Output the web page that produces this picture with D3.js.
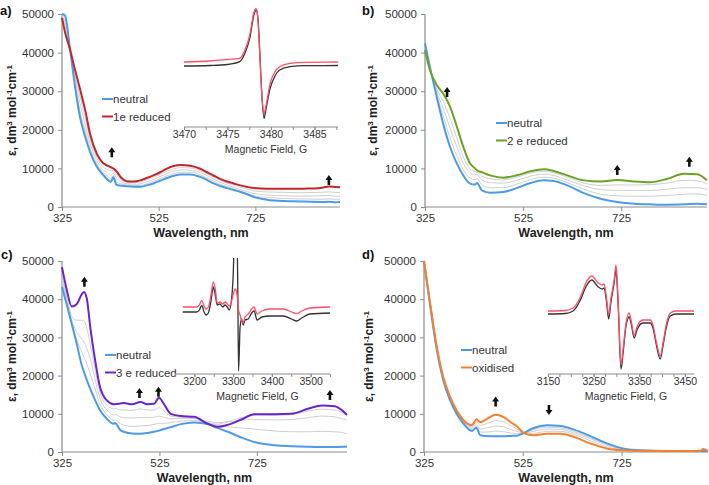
<!DOCTYPE html>
<html>
<head>
<meta charset="utf-8">
<script src="https://cdn.jsdelivr.net/npm/d3@7"></script>
<style>
  html, body { margin: 0; padding: 0; background: #fff; }
  svg { display: block; }
  text { font-family: "Liberation Sans", Arial, sans-serif; }
</style>
</head>
<body>
<svg id="chart" width="709" height="485"></svg>
<script>
// ---------------- DATA ----------------
const epsTicks = [0, 10000, 20000, 30000, 40000, 50000];
const wlTicks = [325, 525, 725];

// Panel a
const wlA = [325, 331, 342, 352, 362, 373, 383, 397, 411, 421, 426, 431, 438, 448, 459, 473, 487, 500, 514, 528, 542, 556, 570, 590, 611, 625, 639, 652, 666, 680, 694, 708, 722, 749, 784, 818, 840, 860, 877, 890, 900];
const neutralA = [50000, 49700, 40600, 31100, 23400, 18200, 14300, 10400, 8200, 6900, 6500, 7700, 5700, 5500, 5350, 5250, 5250, 5600, 6100, 6800, 7500, 8100, 8450, 8450, 7800, 7000, 6100, 5450, 4900, 4400, 3900, 3300, 2600, 1900, 1550, 1450, 1350, 1300, 1350, 1250, 1300];
const reducedA = [49000, 45400, 40600, 35500, 30700, 25100, 19000, 13800, 11250, 10600, 10300, 10000, 9200, 7500, 6700, 6600, 6900, 7500, 8200, 9000, 9950, 10600, 10900, 10700, 9900, 9000, 8100, 7300, 6600, 6100, 5600, 5200, 4900, 4750, 4750, 4700, 4800, 4900, 5300, 5200, 5100];
const grayA1 = [49500, 47000, 40600, 34300, 28800, 23200, 17800, 12800, 10300, 9600, 9300, 9400, 8300, 7000, 6400, 6300, 6500, 7000, 7700, 8500, 9300, 9900, 10200, 10100, 9400, 8600, 7700, 6900, 6200, 5700, 5100, 4600, 4200, 3900, 3800, 3700, 3750, 3800, 3900, 3800, 3700];
const grayA2 = [49700, 48000, 40600, 33200, 26900, 21400, 16500, 12000, 9500, 8700, 8300, 8800, 7400, 6500, 6000, 5900, 6000, 6500, 7100, 7900, 8700, 9300, 9600, 9500, 8900, 8100, 7200, 6400, 5700, 5100, 4500, 4000, 3500, 3100, 2900, 2800, 2850, 2900, 2950, 2800, 2800];
const grayA3 = [49900, 49000, 40600, 32200, 25000, 19700, 15300, 11200, 8800, 7800, 7400, 8200, 6500, 6000, 5700, 5600, 5600, 6000, 6600, 7300, 8100, 8700, 9000, 9000, 8300, 7500, 6700, 5900, 5300, 4700, 4100, 3500, 2900, 2500, 2200, 2100, 2050, 2000, 2100, 2000, 2000];
const arrowsA = [[428, 15500, "up"], [877, 8300, "up"]];

// Panel b
const wlB = [325, 335, 349, 362, 376, 390, 403, 417, 427, 431, 441, 458, 485, 512, 540, 567, 587, 615, 649, 683, 717, 751, 785, 819, 853, 880, 900];
const neutralB = [42400, 36300, 28500, 21600, 15600, 11250, 8200, 6050, 5800, 6200, 4300, 3700, 3900, 4900, 6200, 6900, 6750, 5600, 3600, 2150, 1300, 870, 700, 600, 700, 870, 700];
const reducedB = [40650, 35500, 31600, 29400, 26000, 20800, 15600, 11250, 10000, 9500, 9000, 8200, 7600, 8200, 9250, 9800, 9350, 8200, 6900, 6600, 7000, 6600, 6400, 7300, 8600, 8500, 6900];
const grayB1 = [41000, 35800, 30500, 27400, 23000, 17800, 13000, 9800, 9200, 9000, 8000, 7300, 7000, 7700, 8800, 9200, 8900, 7700, 6200, 5600, 5700, 5700, 5800, 6200, 6900, 6800, 6000];
const grayB2 = [41500, 36000, 29800, 25600, 20500, 15500, 11300, 8900, 8300, 8400, 7000, 6300, 6200, 6900, 8000, 8500, 8200, 7000, 5500, 4500, 4300, 4300, 4300, 4600, 5000, 5000, 4500];
const grayB3 = [42000, 36200, 29100, 23600, 18000, 13300, 9700, 7500, 7100, 7400, 5700, 5000, 5000, 5900, 7100, 7700, 7500, 6300, 4600, 3300, 2900, 2800, 2800, 3000, 3300, 3400, 3000];
const arrowsB = [[370, 31100, "up"], [717, 10900, "up"], [864, 13000, "up"]];

// Panel c
const wlC = [325, 335, 345, 355, 366, 370, 376, 383, 393, 403, 417, 431, 434, 445, 452, 469, 486, 500, 514, 524, 534, 548, 569, 596, 624, 644, 665, 693, 720, 762, 796, 830, 858, 885, 900, 910];
const neutralC = [43200, 38500, 33500, 28500, 22500, 21000, 18800, 16500, 13600, 10900, 8700, 7400, 7600, 5700, 5300, 4850, 4800, 4970, 5300, 5600, 6000, 6500, 7300, 7700, 7300, 6300, 5300, 3800, 2600, 1750, 1500, 1350, 1300, 1300, 1350, 1450];
const reducedC = [48400, 42300, 38100, 38700, 41400, 41900, 40100, 32700, 24000, 17000, 13500, 12500, 12500, 12700, 12800, 12500, 13100, 12500, 12600, 14200, 12600, 10000, 9400, 9200, 7400, 6600, 7100, 8500, 9900, 9900, 10000, 11300, 12200, 12000, 10900, 9700];
const grayC1 = [46500, 40500, 35500, 34500, 34500, 34300, 32500, 28000, 21500, 15500, 12300, 11300, 11400, 11000, 11000, 10900, 11300, 11000, 11000, 11600, 10800, 9400, 9100, 8900, 7700, 7300, 7900, 9000, 9700, 9600, 9800, 10700, 11200, 11000, 10300, 9800];
const grayC2 = [45500, 39800, 34500, 31500, 29500, 28800, 27000, 24500, 19000, 14000, 11000, 9700, 9800, 9200, 9000, 8900, 9000, 9000, 9100, 9400, 9100, 8700, 8800, 8800, 8000, 7700, 7900, 8300, 8500, 8400, 8500, 9000, 9400, 9200, 8700, 8300];
const grayC3 = [44500, 39000, 33800, 29500, 26000, 24800, 23000, 20500, 16500, 12500, 9800, 8300, 8400, 7400, 7000, 6700, 6800, 6900, 7200, 7500, 7500, 7700, 8100, 8300, 7600, 7000, 6600, 6300, 6000, 5500, 5300, 5300, 5400, 5300, 5100, 4800];
const arrowsC = [[371, 45900, "up"], [484, 16750, "up"], [523, 17100, "up"], [875, 16200, "up"]];

// Panel d
const wlD = [325, 337, 351, 364, 378, 391, 405, 422, 431, 439, 459, 469, 486, 500, 513, 527, 547, 574, 602, 629, 663, 697, 730, 764, 819, 860, 886, 890, 900];
const neutralD = [50000, 38800, 26600, 18760, 13500, 10000, 7400, 5500, 6370, 4360, 4100, 4100, 4100, 4200, 4280, 4970, 6280, 6980, 6800, 5850, 4100, 2180, 870, 440, 260, 260, 260, 260, 260];
const oxidisedD = [50000, 39300, 27500, 19600, 14400, 10900, 8300, 7000, 8550, 7850, 9160, 9770, 9160, 7850, 6720, 4970, 4360, 4800, 4800, 3930, 2180, 870, 440, 260, 260, 260, 300, 800, 260];
const grayD1 = [50000, 39100, 27200, 19300, 14100, 10600, 8000, 6600, 8000, 7000, 7800, 8200, 7900, 6900, 6000, 4970, 4900, 5400, 5400, 4600, 2900, 1300, 600, 350, 260, 260, 260, 260, 260];
const grayD2 = [50000, 39000, 27000, 19100, 13900, 10400, 7800, 6200, 7400, 6000, 6500, 6800, 6600, 5900, 5400, 4970, 5400, 6000, 5900, 5000, 3400, 1700, 700, 400, 260, 260, 260, 260, 260];
const grayD3 = [50000, 38900, 26800, 18900, 13700, 10200, 7600, 5800, 6900, 5200, 5300, 5500, 5300, 5000, 4800, 4970, 5900, 6500, 6300, 5400, 3700, 1900, 780, 420, 260, 260, 260, 260, 260];
const arrowsD = [[470, 14500, "up"], [578, 9700, "down"]];

// EPR insets (field in G, signal in arbitrary units)
const fieldA = [3470, 3473, 3475, 3476.4, 3477.0, 3477.6, 3478.0, 3478.3, 3478.5, 3478.7, 3478.96, 3479.2, 3479.4, 3479.9, 3480.45, 3481.0, 3482.2, 3483.9, 3487.7];
const eprExpA = [-4, -3.5, -2.5, 0.3, 8.7, 25.3, 46, 52, 43.7, 12, -34.7, -56.3, -48, -26.3, -14, -8, -4.7, -3.7, -3.5];
const eprSimA = [0, 1, 2.5, 3.7, 12, 28.7, 48.7, 53.7, 42, 9, -34.7, -51.3, -44.7, -21.3, -9.7, -4.7, -1.3, -0.3, 0];
const fieldTicksA = [3470, 3475, 3480, 3485];

const fieldC = [3170, 3206, 3213, 3219, 3225, 3230, 3236, 3242, 3249, 3254, 3259, 3266, 3273, 3279, 3285, 3290, 3296, 3300, 3305, 3309, 3312, 3314, 3318, 3322, 3326, 3331, 3339, 3348, 3354, 3362, 3374, 3395, 3429, 3451, 3464, 3477, 3498, 3550];
const eprExpC = [-5, -5, -3, 1.7, -5, -8, -6, 4, 20, 12, 2, 3, 0, 2, 0, -3, 8, 30, 90, 90, 20, -64, -20, -12, -18, -13, -12, -6, -4, -13, -10, -9, -9, -12, -14, -11, -7, -6];
const eprSimC = [0, 0, 2, 6.7, 1, -2, 0, 10, 25, 18, 3.7, 5, 3, 5, 3, 1, 6, 12, 18, 15, 5, -3, -8, -14, -16, -10, -7, -2, 0, -7, -4, -2, -2, -5, -6.7, -4, -1, 0];
const fieldTicksC = [3200, 3300, 3400, 3500];

const fieldD = [3150, 3188, 3205, 3221, 3234, 3246, 3260, 3269, 3273, 3278, 3283, 3288, 3295, 3299, 3304, 3310, 3315, 3321, 3328, 3332, 3339, 3345, 3358, 3374, 3380, 3388, 3396, 3402, 3410, 3418, 3431, 3470];
const eprExpD = [-3, -2.5, 0, 11, 25, 31, 24, 22, 23, 10, -8, 9, 28, 41, 3, -58, -40, -15, -6, -12, -27, -19, -12, -12, -17, -35, -48, -35, -15, -5, -3, -3];
const eprSimD = [0, 0.5, 3, 14, 29, 35, 28, 26, 27, 14, -4, 13, 31, 46, 8, -54, -36, -12, -2, -9, -24, -16, -9, -9, -14, -32, -45, -32, -12, -2, 0, 0];
const fieldTicksD = [3150, 3250, 3350, 3450];

// ---------------- STYLE / LAYOUT ----------------
const COL = {
  neutral: "#4d9be6", red1: "#c1272d", green: "#6aa323", purple: "#6a24c9",
  orange: "#f4812f", gray: "#cfcfcf", axis: "#8c8c8c", text: "#333333",
  eprSim: "#ff4f66", eprExp: "#333333"
};

const svg = d3.select("#chart");

const panels = [
  { label: "a)", lx: 0, ly: 15, x0: 62, x1: 340, yTop: 14, yBot: 207, dom: [325, 900], wl: wlA,
    grays: [grayA1, grayA2, grayA3], neutral: neutralA, final: reducedA, finalColor: COL.red1, finalName: "1e reduced",
    legX: 102, legY: 99, arrows: arrowsA, titleX: 12 },
  { label: "b)", lx: 362, ly: 15, x0: 425, x1: 707, yTop: 14, yBot: 207, dom: [325, 900], wl: wlB,
    grays: [grayB1, grayB2, grayB3], neutral: neutralB, final: reducedB, finalColor: COL.green, finalName: "2 e reduced",
    legX: 496, legY: 123, arrows: arrowsB, titleX: 373 },
  { label: "c)", lx: 1, ly: 259, x0: 62, x1: 347, yTop: 261, yBot: 452, dom: [325, 910], wl: wlC,
    grays: [grayC1, grayC2, grayC3], neutral: neutralC, final: reducedC, finalColor: COL.purple, finalName: "3 e reduced",
    legX: 105, legY: 355, arrows: arrowsC, titleX: 12 },
  { label: "d)", lx: 362, ly: 259, x0: 424, x1: 708, yTop: 261, yBot: 452, dom: [325, 900], wl: wlD,
    grays: [grayD1, grayD2, grayD3], neutral: neutralD, final: oxidisedD, finalColor: COL.orange, finalName: "oxidised",
    legX: 461, legY: 350, arrows: arrowsD, titleX: 369 }
];

const insets = [
  { x0: 184, x1: 338, yAxis: 127, yTop: 5, dom: [3470, 3487.7], vdom: [-65, 57], field: fieldA, exp: eprExpA, sim: eprSimA,
    ticks: fieldTicksA, minor: 2.5 },
  { x0: 175, x1: 330, yAxis: 374, yTop: 262, dom: [3150, 3550], vdom: [-67, 45], field: fieldC, exp: eprExpC, sim: eprSimC,
    ticks: fieldTicksC, minor: 50 },
  { x0: 548, x1: 694, yAxis: 374, yTop: 262, dom: [3150, 3470], vdom: [-63, 49], field: fieldD, exp: eprExpD, sim: eprSimD,
    ticks: fieldTicksD, minor: 25 }
];

function drawPanel(p) {
  const g = svg.append("g");
  const x = d3.scaleLinear().domain(p.dom).range([p.x0, p.x1]);
  const y = d3.scaleLinear().domain([0, 50000]).range([p.yBot, p.yTop]);

  // axes
  const yAxis = d3.axisLeft(y).tickValues(epsTicks).tickSize(4).tickPadding(4).tickFormat(d3.format("d"));
  const xAxis = d3.axisBottom(x).tickValues(wlTicks).tickSize(4).tickPadding(3).tickFormat(d3.format("d"));
  const gy = g.append("g").attr("transform", `translate(${p.x0},0)`).call(yAxis);
  const gx = g.append("g").attr("transform", `translate(0,${p.yBot})`).call(xAxis);
  [gy, gx].forEach(a => {
    a.select(".domain").attr("stroke", COL.axis).attr("stroke-width", 1.2);
    a.selectAll(".tick line").attr("stroke", COL.axis);
    a.selectAll(".tick text").attr("fill", COL.text).style("font-size", "11.5px")
      .style("font-family", "'Liberation Sans', Arial, sans-serif");
  });
  gy.select(".domain").attr("d", `M0,${p.yTop}V${p.yBot}`);
  gx.select(".domain").attr("d", `M${p.x0},0H${p.x1}`);

  // titles
  g.append("text").attr("x", (p.x0 + p.x1) / 2).attr("y", p.yBot + 30)
    .attr("text-anchor", "middle").attr("fill", "#222").style("font-size", "12.5px").style("font-weight", "bold")
    .text("Wavelength, nm");
  const yt = g.append("text")
    .attr("transform", `translate(${p.titleX + 4},${(p.yTop + p.yBot) / 2}) rotate(-90)`)
    .attr("text-anchor", "middle").attr("fill", "#222").style("font-size", "12px").style("font-weight", "bold");
  yt.append("tspan").text("ε, dm");
  yt.append("tspan").attr("dy", -4).style("font-size", "8px").text("3");
  yt.append("tspan").attr("dy", 4).text(" mol");
  yt.append("tspan").attr("dy", -4).style("font-size", "8px").text("-1");
  yt.append("tspan").attr("dy", 4).text("cm");
  yt.append("tspan").attr("dy", -4).style("font-size", "8px").text("-1");

  g.append("text").attr("x", p.lx).attr("y", p.ly).attr("fill", "#111")
    .style("font-size", "13px").style("font-weight", "bold").text(p.label);

  // lines
  const line = d3.line().x((d, i) => x(p.wl[i])).y(d => y(d)).curve(d3.curveMonotoneX);
  p.grays.forEach(s => {
    g.append("path").attr("d", line(s)).attr("fill", "none").attr("stroke", COL.gray).attr("stroke-width", 1);
  });
  g.append("path").attr("d", line(p.neutral)).attr("fill", "none").attr("stroke", COL.neutral).attr("stroke-width", 2);
  g.append("path").attr("d", line(p.final)).attr("fill", "none").attr("stroke", p.finalColor).attr("stroke-width", 2);

  // legend
  const leg = [["neutral", COL.neutral], [p.finalName, p.finalColor]];
  leg.forEach((l, i) => {
    const ly = p.legY + i * 17.5;
    g.append("line").attr("x1", p.legX).attr("x2", p.legX + 11).attr("y1", ly).attr("y2", ly)
      .attr("stroke", l[1]).attr("stroke-width", 2);
    g.append("text").attr("x", p.legX + 11).attr("y", ly + 4).attr("fill", COL.text)
      .style("font-size", "11.5px").text(l[0]);
  });

  // arrows
  p.arrows.forEach(a => {
    const ax = x(a[0]), ay = y(a[1]);
    const s = a[2] === "up" ? 1 : -1;
    const path = `M${ax},${ay} L${ax - 3.5},${ay + s * 5} L${ax - 1.3},${ay + s * 5} L${ax - 1.3},${ay + s * 10} L${ax + 1.3},${ay + s * 10} L${ax + 1.3},${ay + s * 5} L${ax + 3.5},${ay + s * 5} Z`;
    g.append("path").attr("d", path).attr("fill", "#111");
  });
}

function drawInset(n, k) {
  const g = svg.append("g");
  const clipId = "clip" + k;
  svg.append("clipPath").attr("id", clipId).append("rect")
    .attr("x", n.x0 - 2).attr("y", n.yTop - 4).attr("width", n.x1 - n.x0 + 4).attr("height", n.yAxis - n.yTop + 4);
  const x = d3.scaleLinear().domain(n.dom).range([n.x0, n.x1]);
  const y = d3.scaleLinear().domain(n.vdom).range([n.yAxis, n.yTop]);
  // minor tick marks (no labels)
  const minorTicks = d3.range(n.dom[0], n.dom[1] + 1e-6, n.minor);
  const gm = g.append("g").attr("transform", `translate(0,${n.yAxis})`)
    .call(d3.axisBottom(x).tickValues(minorTicks).tickSize(3).tickFormat(() => null));
  gm.select(".domain").attr("stroke", COL.axis).attr("d", `M${n.x0},0H${n.x1}`);
  gm.selectAll(".tick line").attr("stroke", COL.axis);
  gm.selectAll(".tick text").remove();
  // labelled ticks
  const gl = g.append("g").attr("transform", `translate(0,${n.yAxis})`)
    .call(d3.axisBottom(x).tickValues(n.ticks).tickSize(3).tickPadding(1).tickFormat(d3.format("d")));
  gl.select(".domain").remove();
  gl.selectAll(".tick line").attr("stroke", COL.axis);
  gl.selectAll(".tick text").attr("fill", COL.text).style("font-size", "10.5px")
    .style("font-family", "'Liberation Sans', Arial, sans-serif");
  g.append("text").attr("x", (n.x0 + n.x1) / 2 + 5).attr("y", n.yAxis + 26).attr("text-anchor", "middle")
    .attr("fill", COL.text).style("font-size", "10.5px").text("Magnetic Field, G");

  const line = d3.line().x((d, i) => x(n.field[i])).y(d => y(d)).curve(d3.curveMonotoneX);
  const gc = g.append("g").attr("clip-path", `url(#${clipId})`);
  gc.append("path").attr("d", line(n.exp)).attr("fill", "none").attr("stroke", COL.eprExp).attr("stroke-width", 1.3);
  gc.append("path").attr("d", line(n.sim)).attr("fill", "none").attr("stroke", COL.eprSim).attr("stroke-width", 1.3);
}

panels.forEach(drawPanel);
insets.forEach(drawInset);
</script>
</body>
</html>
